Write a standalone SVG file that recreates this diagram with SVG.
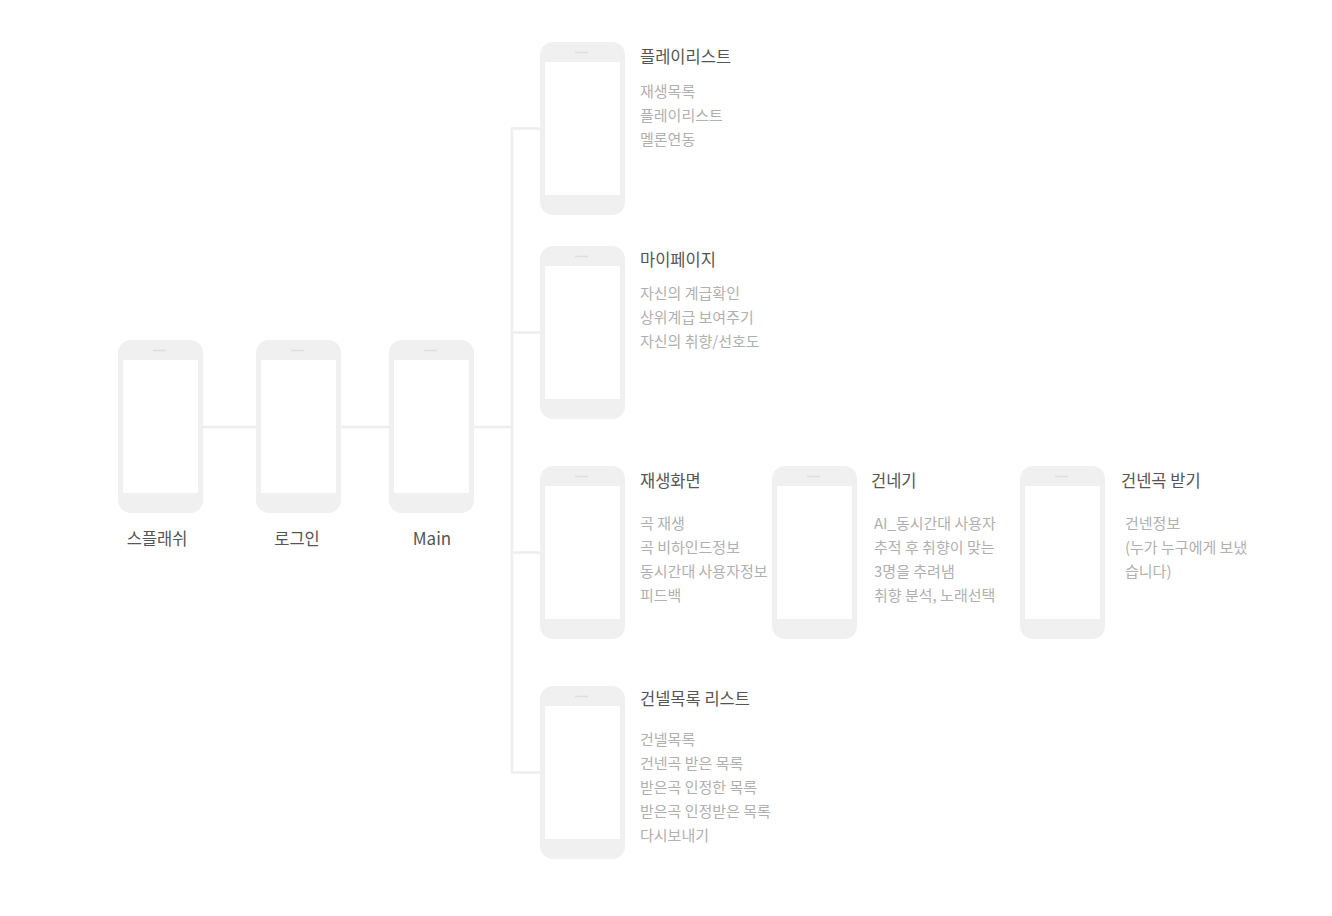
<svg xmlns="http://www.w3.org/2000/svg" xmlns:xlink="http://www.w3.org/1999/xlink" width="1332" height="916" viewBox="0 0 1332 916">
<style>
.title{font-family:"Noto Sans CJK KR","Liberation Sans",sans-serif;font-size:16.5px;fill:#555;}
.item{font-family:"Noto Sans CJK KR","Liberation Sans",sans-serif;font-size:15px;fill:#b0b0b0;}
.label{font-family:"Noto Sans CJK KR","Liberation Sans",sans-serif;font-size:16.5px;fill:#555;text-anchor:middle;}
.conn{stroke:#eeeeee;stroke-width:2.5;fill:none}
</style>
<defs>
<g id="phone">
<rect x="0" y="0" width="85" height="173" rx="13" fill="#f0f0f0"/>
<rect x="5" y="20" width="75" height="133" fill="#ffffff"/>
<line x1="35" y1="10.5" x2="48" y2="10.5" stroke="#dedede" stroke-width="1.5"/>
</g>
</defs>
<rect width="1332" height="916" fill="#ffffff"/>
<g id="connectors">
<line class="conn" x1="203" y1="427" x2="256" y2="427"/>
<line class="conn" x1="341" y1="427" x2="389" y2="427"/>
<line class="conn" x1="474" y1="427" x2="512" y2="427"/>
<line class="conn" x1="512" y1="128.5" x2="512" y2="772.5"/>
<line class="conn" x1="511" y1="128.5" x2="540" y2="128.5"/>
<line class="conn" x1="512" y1="332.5" x2="540" y2="332.5"/>
<line class="conn" x1="512" y1="552.5" x2="540" y2="552.5"/>
<line class="conn" x1="511" y1="772.5" x2="540" y2="772.5"/>
</g>
<g id="splash">
<use xlink:href="#phone" x="118" y="340"/>
<text class="label" x="157" y="545">스플래쉬</text>
</g>
<g id="login">
<use xlink:href="#phone" x="256" y="340"/>
<text class="label" x="297" y="545">로그인</text>
</g>
<g id="main">
<use xlink:href="#phone" x="389" y="340"/>
<text class="label" x="432" y="545" style="font-size:17px">Main</text>
</g>
<g id="playlist">
<use xlink:href="#phone" x="540" y="42"/>
<text class="title" x="640" y="63">플레이리스트</text>
<text class="item" x="640" y="97">재생목록</text>
<text class="item" x="640" y="121">플레이리스트</text>
<text class="item" x="640" y="145">멜론연동</text>
</g>
<g id="mypage">
<use xlink:href="#phone" x="540" y="246"/>
<text class="title" x="640" y="266">마이페이지</text>
<text class="item" x="640" y="299">자신의 계급확인</text>
<text class="item" x="640" y="323">상위계급 보여주기</text>
<text class="item" x="640" y="347">자신의 취향/선호도</text>
</g>
<g id="player">
<use xlink:href="#phone" x="540" y="466"/>
<text class="title" x="640" y="487">재생화면</text>
<text class="item" x="640" y="529">곡 재생</text>
<text class="item" x="640" y="553">곡 비하인드정보</text>
<text class="item" x="640" y="577">동시간대 사용자정보</text>
<text class="item" x="640" y="601">피드백</text>
</g>
<g id="send">
<use xlink:href="#phone" x="772" y="466"/>
<text class="title" x="871" y="487">건네기</text>
<text class="item" x="874" y="529">AI_동시간대 사용자</text>
<text class="item" x="874" y="553">추적 후 취향이 맞는</text>
<text class="item" x="874" y="577">3명을 추려냄</text>
<text class="item" x="874" y="601">취향 분석, 노래선택</text>
</g>
<g id="receive">
<use xlink:href="#phone" x="1020" y="466"/>
<text class="title" x="1121" y="487">건넨곡 받기</text>
<text class="item" x="1125" y="529">건넨정보</text>
<text class="item" x="1125" y="553">(누가 누구에게 보냈</text>
<text class="item" x="1125" y="577">습니다)</text>
</g>
<g id="sentlist">
<use xlink:href="#phone" x="540" y="686"/>
<text class="title" x="640" y="705">건넬목록 리스트</text>
<text class="item" x="640" y="745">건넬목록</text>
<text class="item" x="640" y="769">건넨곡 받은 목록</text>
<text class="item" x="640" y="793">받은곡 인정한 목록</text>
<text class="item" x="640" y="817">받은곡 인정받은 목록</text>
<text class="item" x="640" y="841">다시보내기</text>
</g>
</svg>
